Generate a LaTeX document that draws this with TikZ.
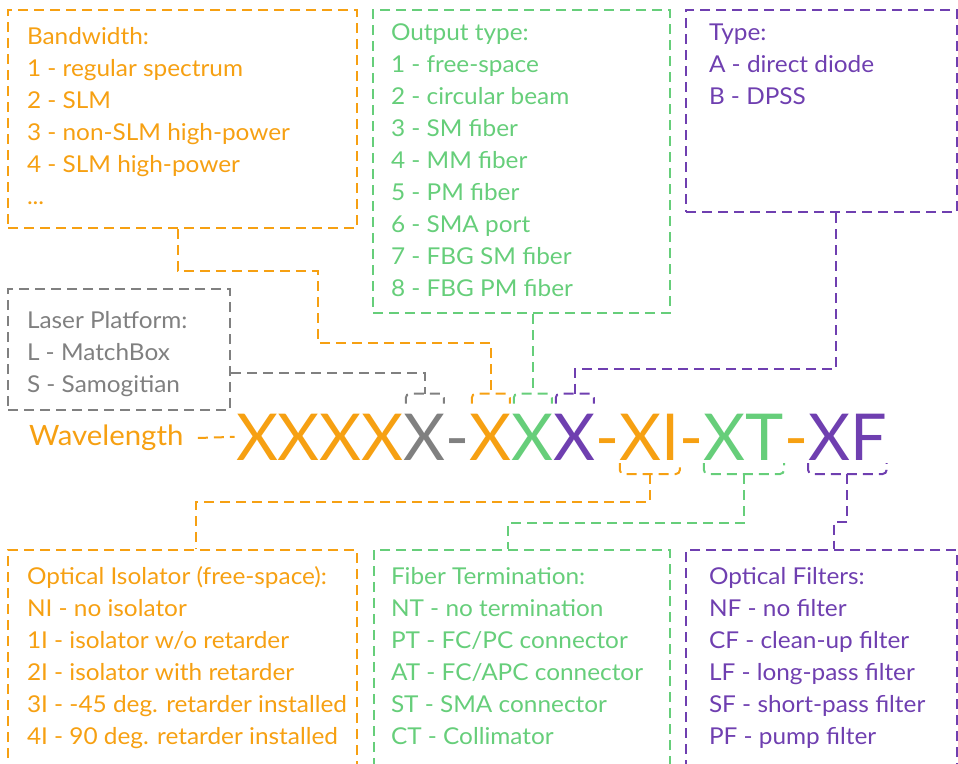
\documentclass[tikz,border=0pt]{standalone}
\usepackage{fontspec}
\setmainfont[FakeStretch=1.05]{Lato}
\newfontfamily\codefont{Lato}
\usetikzlibrary{positioning,fit}
\definecolor{lorange}{HTML}{F6A012}
\definecolor{lgreen}{HTML}{66CE7A}
\definecolor{lpurple}{HTML}{6F3FB0}
\definecolor{lgray}{HTML}{808080}

\begin{document}
\begin{tikzpicture}[x=0.75pt,y=-0.75pt,line width=1.5pt]
	\tikzstyle{frame}=[draw,inner sep=0pt,dash pattern=on 7.5pt off 4.5pt]
	\tikzstyle{info}=[anchor=north west,align=left,inner sep=0pt,font=\fontsize{17.4}{24}\selectfont]
	\tikzstyle{code}=[inner sep=0pt,outer sep=0pt,font=\codefont\fontsize{48.5}{50}\selectfont]
	\tikzstyle{link}=[dash pattern=on 7.5pt off 4.5pt]
	\tikzstyle{brk}=[rounded corners=3pt,dash pattern=on 7.5pt off 4.5pt]
	
	\useasboundingbox (0,0) rectangle (958,764);
	
	\node[frame, lorange, fit={(8,10) (357,228)}] (bw) {};
	\node[info, lorange] at ([shift={(19,17)}]bw.north west) {Bandwidth:\\1 - regular spectrum\\2 - SLM\\3 - non-SLM high-power\\4 - SLM high-power\\...};
	\node[frame, lgreen, fit={(373,10) (670,313)}] (ot) {};
	\node[info, lgreen] at ([shift={(18,14)}]ot.north west) {Output type:\\1 - free-space\\2 - circular beam\\3 - SM fiber\\4 - MM fiber\\5 - PM fiber\\6 - SMA port\\7 - FBG SM fiber\\8 - FBG PM fiber};
	\node[frame, lpurple, fit={(686,10) (957,212)}] (ty) {};
	\node[info, lpurple] at ([shift={(23,14)}]ty.north west) {Type:\\A - direct diode\\B - DPSS};
	\node[frame, lgray, fit={(8,289) (230,410)}] (lp) {};
	\node[info, lgray] at ([shift={(19,22)}]lp.north west) {Laser Platform:\\L - MatchBox\\S - Samogitian};
	
	\node[frame, lorange, fit={(8,550) (357,790)}] (oi) {};
	\node[info, lorange] at ([shift={(19,17)}]oi.north west) {Optical Isolator (free-space):\\NI - no isolator\\1I - isolator w/o retarder\\2I - isolator with retarder\\3I - -45 deg. retarder installed\\4I - 90 deg. retarder installed};
	\node[frame, lgreen, fit={(374,550) (670,790)}] (ft) {};
	\node[info, lgreen] at ([shift={(17,17)}]ft.north west) {Fiber Termination:\\NT - no termination\\PT - FC/PC connector\\AT - FC/APC connector\\ST - SMA connector\\CT - Collimator};
	\node[frame, lpurple, fit={(686,550) (957,790)}] (of) {};
	\node[info, lpurple] at ([shift={(23,17)}]of.north west) {Optical Filters:\\NF - no filter\\CF - clean-up filter\\LF - long-pass filter\\SF - short-pass filter\\PF - pump filter};
	
	\node[code, lorange, anchor=base west] (xw) at (236,460) {XXXX};
	\node[code, lgray, base right=0pt of xw] (xp) {X};
	\node[code, lgray, base right=0pt of xp] (d1) {-};
	\node[code, lorange, base right=0pt of d1] (xb) {X};
	\node[code, lgreen, base right=0pt of xb] (xo) {X};
	\node[code, lpurple, base right=0pt of xo] (xt) {X};
	\node[code, lorange, base right=0pt of xt] (d2) {-};
	\node[code, lorange, base right=0pt of d2] (xi) {XI};
	\node[code, lorange, base right=0pt of xi] (d3) {-};
	\node[code, lgreen, base right=0pt of d3] (xe) {XT};
	\node[code, lorange, base right=0pt of xe] (d4) {-};
	\node[code, lpurple, base right=0pt of d4] (xf) {XF};
	\node[lorange, font=\fontsize{21}{24}\selectfont, anchor=west, inner sep=0pt] (wl) at (28,438) {Wavelength};
	
	\coordinate (xpt) at ([yshift=15pt]xp.north);
	\coordinate (xbt) at ([yshift=15pt]xb.north);
	\coordinate (xot) at ([yshift=15pt]xo.north);
	\coordinate (xtt) at ([yshift=15pt]xt.north);
	\coordinate (xib) at ([yshift=-10.5pt]xi.south);
	\coordinate (xeb) at ([yshift=-10.5pt]xe.south);
	\coordinate (xfb) at ([yshift=-10.5pt]xf.south);
	
	\draw[brk, lgray] ([shift={(2,-10)}]xp.north west) |- (xpt) -| ([shift={(-2,-10)}]xp.north east);
	\draw[brk, lorange] ([shift={(2,-10)}]xb.north west) |- (xbt) -| ([shift={(-2,-10)}]xb.north east);
	\draw[brk, lgreen] ([shift={(2,-10)}]xo.north west) |- (xot) -| ([shift={(-2,-10)}]xo.north east);
	\draw[brk, lpurple] ([shift={(2,-10)}]xt.north west) |- (xtt) -| ([shift={(-2,-10)}]xt.north east);
	\draw[brk, lorange] ([shift={(0,3)}]xi.south west) |- (xib) -| ([shift={(0,3)}]xi.south east);
	\draw[brk, lgreen] ([shift={(0,3)}]xe.south west) |- (xeb) -| ([shift={(0,3)}]xe.south east);
	\draw[brk, lpurple] ([shift={(0,3)}]xf.south west) |- (xfb) -| ([shift={(0,3)}]xf.south east);
	
	\draw[link, lorange] ([xshift=10pt]wl.east) -- ([xshift=-1pt]xw.west);
	\draw[link, lorange] ([xshift=-3.4pt]bw.south) -- ++(0,42) -| ++(140,72) -| (xbt);
	\draw[link, lgray] ([yshift=28.5pt]lp.south east) -| (xpt);
	\draw[link, lgreen] (ot.south -| xot) -- (xot);
	\draw[link, lpurple] ([xshift=11pt]ty.south) -- ++(0,156) -| (xtt);
	\draw[link, lorange] (xib) -- ++(0,28) -| ([xshift=10pt]oi.north);
	\draw[link, lgreen] (xeb) -- ++(0,49) -| ([xshift=-10.5pt]ft.north);
	\draw[link, lpurple] (xfb) -- ++(0,48) -| ([xshift=9.4pt]of.north);
\end{tikzpicture}
\end{document}
